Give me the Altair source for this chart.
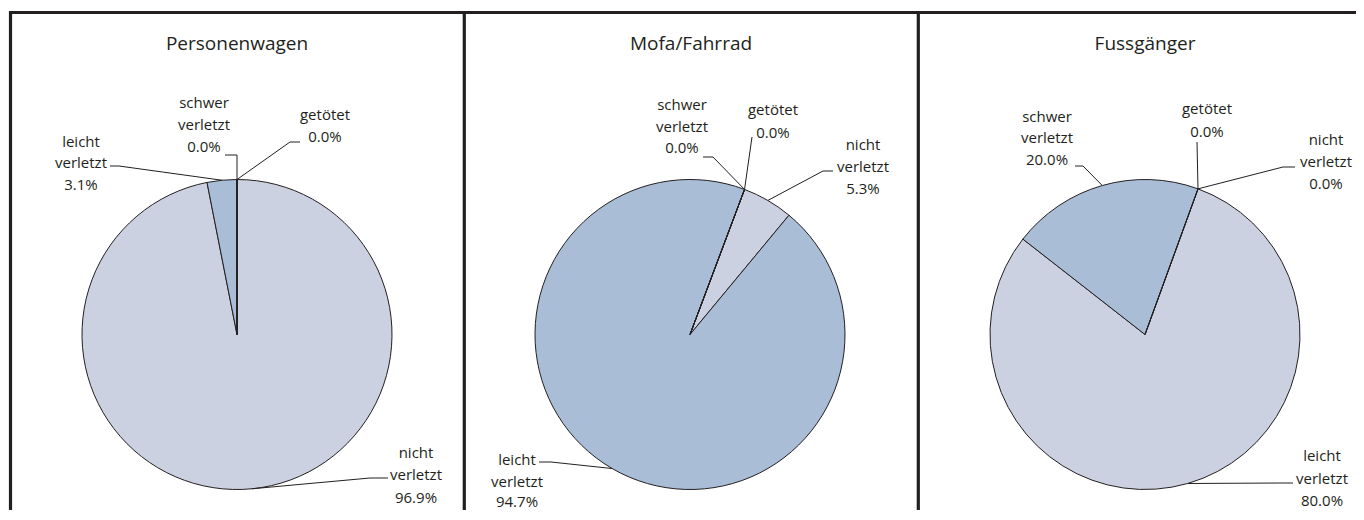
import math
import altair as alt
import pandas as pd

# ---------------- data ----------------
panels = ["Personenwagen", "Mofa/Fahrrad", "Fussgänger"]
categories = ["nicht verletzt", "leicht verletzt", "schwer verletzt", "getötet"]
personenwagen = [96.9, 3.1, 0.0, 0.0]
mofa_fahrrad = [5.3, 94.7, 0.0, 0.0]
fussgaenger = [0.0, 80.0, 20.0, 0.0]
values = {panels[0]: personenwagen, panels[1]: mofa_fahrrad, panels[2]: fussgaenger}

# ---------------- style ----------------
LIGHT = "#CBD1E0"
BLUE = "#A9BDD6"
INK = "#231F20"
FONT = "Open Sans"
fills = {
    panels[0]: [LIGHT, BLUE, BLUE, LIGHT],
    panels[1]: [LIGHT, BLUE, BLUE, LIGHT],
    panels[2]: [LIGHT, LIGHT, BLUE, LIGHT],
}

# ---------------- layout (page pixels) ----------------
OX, OY = 8, 8
W, H = 1348, 502
R = 155
pie_center = {panels[0]: (237, 334.5), panels[1]: (690, 334.5), panels[2]: (1145, 334.5)}
start_deg = {panels[0]: 0.0, panels[1]: 20.6, panels[2]: 20.0}
title_pos = {panels[0]: (237, 50), panels[1]: (691, 50), panels[2]: (1145, 50)}
# text centre x, line baselines, leader start (anchor), leader elbow
label_layout = {
    panels[0]: {
        "nicht verletzt": (416, [458, 480, 503], (388, 478), (370, 478)),
        "leicht verletzt": (81, [147, 168, 190], (110, 166), (119, 166)),
        "schwer verletzt": (204, [108, 130, 152], (225, 155), (237, 155)),
        "getötet": (325, [120, 142], (300, 142), (290, 142)),
    },
    panels[1]: {
        "nicht verletzt": (863, [150, 172, 194], (833, 171), (823, 171)),
        "leicht verletzt": (517, [465, 487, 507], (539, 462), (551, 462)),
        "schwer verletzt": (682, [110, 132, 153], (703, 157), (713, 157)),
        "getötet": (773, [115, 138], (752, 137), (752, 137)),
    },
    panels[2]: {
        "nicht verletzt": (1326, [145, 167, 189], (1295, 167), (1283, 167)),
        "leicht verletzt": (1322, [461, 484, 506], (1293, 483), (1283, 483)),
        "schwer verletzt": (1047, [122, 143, 165], (1075, 166), (1083, 166)),
        "getötet": (1207, [114, 137], (1197, 142), (1197, 142)),
    },
}

# ---------------- tables ----------------
slice_rows, line_rows, text_rows, title_rows = [], [], [], []
for p in panels:
    vals = values[p]
    total = sum(vals)
    cx, cy = pie_center[p]
    a0 = math.radians(start_deg[p])
    cum = 0.0
    for i, (cat, v) in enumerate(zip(categories, vals)):
        slice_rows.append({"panel": p, "cat": cat, "value": v, "order": i, "fill": fills[p][i]})
        mid = a0 + 2 * math.pi * (cum + v / 2) / total
        cum += v
        px, py = cx + R * math.sin(mid), cy - R * math.cos(mid)
        tx, tys, (ax, ay), (ex, ey) = label_layout[p][cat]
        key = f"{p}|{cat}"
        for k, (lx, ly) in enumerate([(ax, ay), (ex, ey), (px, py)]):
            line_rows.append({"key": key, "pt": k, "x": lx, "y": ly})
        words = cat.split(" ") + [f"{v:.1f}%"]
        for w_, ty in zip(words, tys):
            text_rows.append({"x": tx, "y": ty, "text": w_})
    tx, ty = title_pos[p]
    title_rows.append({"x": tx, "y": ty, "text": p})

slices = pd.DataFrame(slice_rows)
lines = pd.DataFrame(line_rows)
texts = pd.DataFrame(text_rows)
titles = pd.DataFrame(title_rows)
borders = pd.DataFrame([
    {"x": 9, "x2": 1364, "y": 12.5, "y2": 12.5},
    {"x": 10.5, "x2": 10.5, "y": 11, "y2": 520},
    {"x": 464.3, "x2": 464.3, "y": 11, "y2": 520},
    {"x": 918.3, "x2": 918.3, "y": 11, "y2": 520},
])

xs = alt.Scale(domain=[OX, OX + W], nice=False, zero=False)
ys = alt.Scale(domain=[OY, OY + H], reverse=True, nice=False, zero=False)


def arc_layer(p):
    cx, cy = pie_center[p]
    a0 = math.radians(start_deg[p])
    return (
        alt.Chart(slices)
        .transform_filter(alt.datum.panel == p)
        .mark_arc(radius=R, stroke=INK, strokeWidth=1)
        .encode(
            theta=alt.Theta("value:Q", stack=True, scale=alt.Scale(range=[a0, a0 + 2 * math.pi])),
            order=alt.Order("order:Q"),
            color=alt.Color("fill:N", scale=None),
            x=alt.value(cx - OX),
            y=alt.value(cy - OY),
        )
    )


border_layer = alt.Chart(borders).mark_rule(color=INK, strokeWidth=3.2).encode(
    x=alt.X("x:Q", scale=xs, axis=None),
    x2="x2:Q",
    y=alt.Y("y:Q", scale=ys, axis=None),
    y2="y2:Q",
)

line_layer = alt.Chart(lines).mark_line(color=INK, strokeWidth=1).encode(
    x=alt.X("x:Q", scale=xs, axis=None),
    y=alt.Y("y:Q", scale=ys, axis=None),
    detail="key:N",
    order="pt:Q",
)

text_layer = alt.Chart(texts).mark_text(
    font=FONT, fontSize=15, color=INK, align="center", baseline="alphabetic"
).encode(
    x=alt.X("x:Q", scale=xs, axis=None),
    y=alt.Y("y:Q", scale=ys, axis=None),
    text="text:N",
)

title_layer = alt.Chart(titles).mark_text(
    font=FONT, fontSize=19, color=INK, align="center", baseline="alphabetic"
).encode(
    x=alt.X("x:Q", scale=xs, axis=None),
    y=alt.Y("y:Q", scale=ys, axis=None),
    text="text:N",
)

chart = (
    alt.layer(
        arc_layer(panels[0]), arc_layer(panels[1]), arc_layer(panels[2]),
        line_layer, border_layer, text_layer, title_layer,
    )
    .resolve_scale(theta="independent")
    .properties(width=W, height=H, padding=0, autosize=alt.AutoSizeParams(type="none"))
    .configure_view(strokeWidth=0)
)

chart.save("out.html", embed_options={"renderer": "svg", "actions": False})
